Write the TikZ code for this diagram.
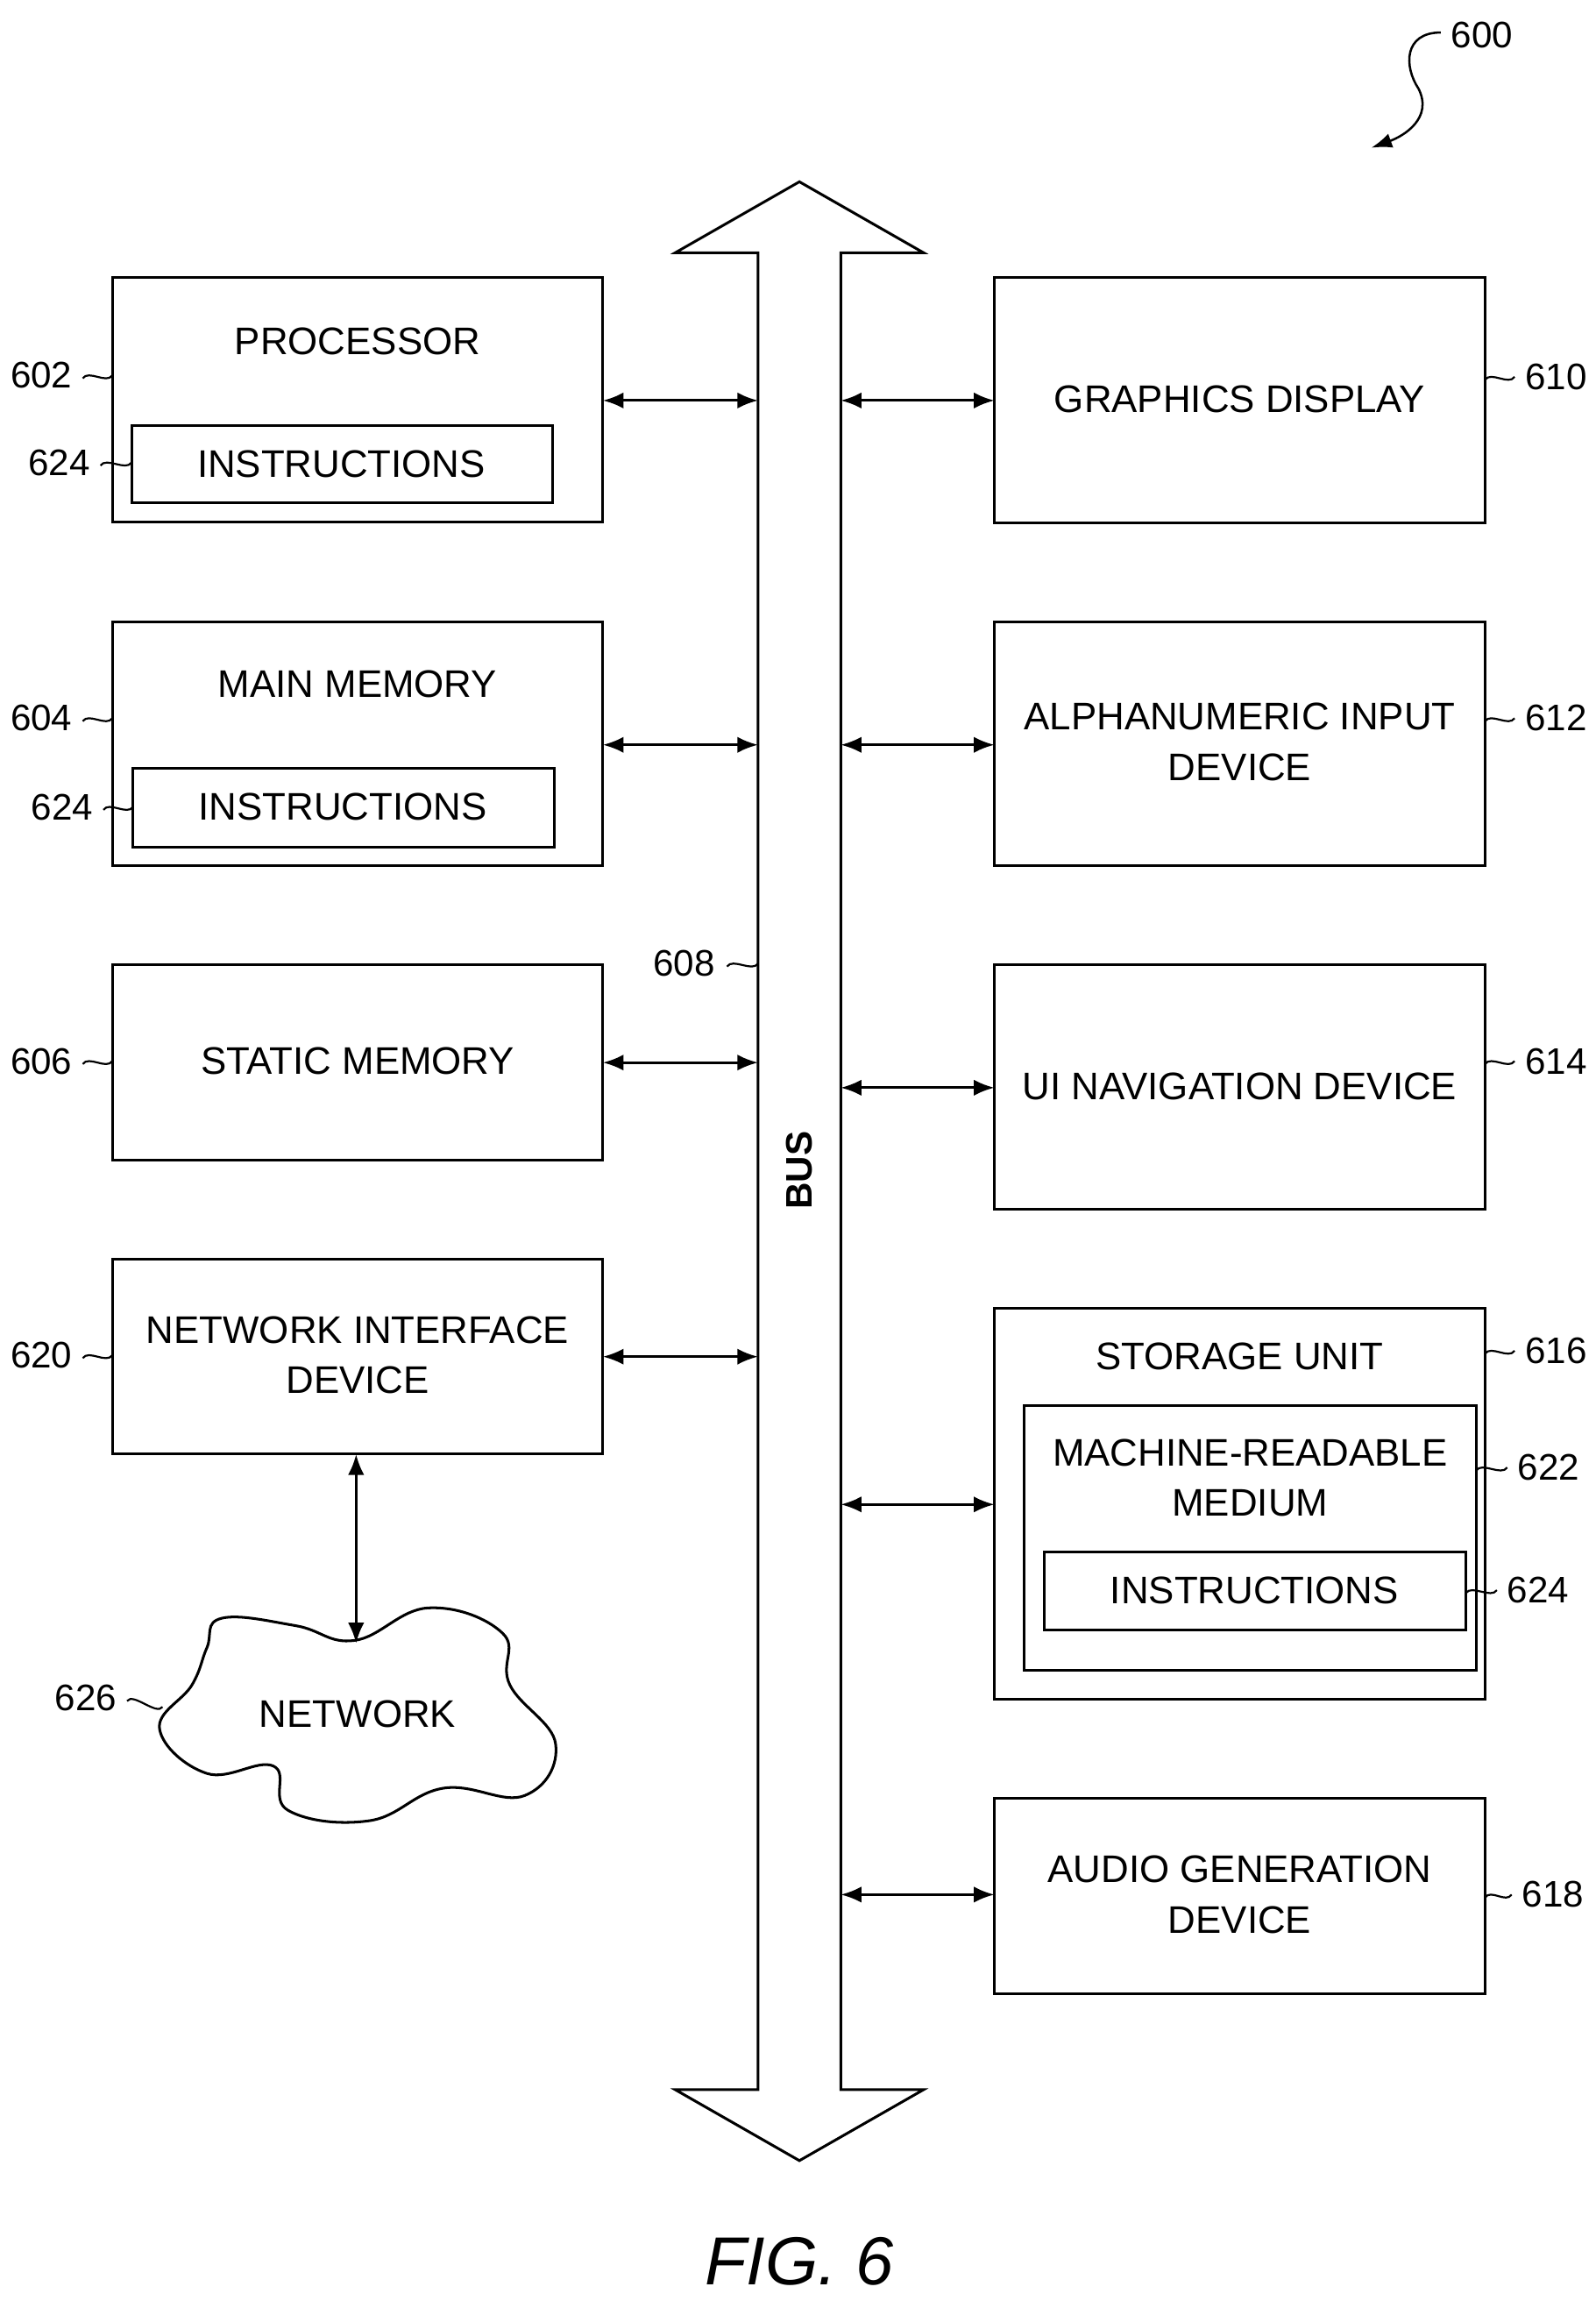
\documentclass[tikz,border=0pt]{standalone}
\usepackage{fontspec}
\setmainfont{Liberation Sans}
\usetikzlibrary{arrows.meta}
\begin{document}
\begin{tikzpicture}[x=1pt,y=-1pt,line width=1.8pt,
 box/.style={draw,line width=1.8pt},
 txt/.style={font=\fontsize{26}{34}\selectfont,align=center},
 lab/.style={font=\fontsize{25}{30}\selectfont},
 arr/.style={{Latex[length=14pt,width=11pt]}-{Latex[length=14pt,width=11pt]},line width=1.8pt}]
\useasboundingbox (0,0) rectangle (1080,1557);
% left boxes
\draw[box] (76,188) rectangle (408,353); \node[txt] (p) at (242,231) {PROCESSOR};
\draw[box] (89,288) rectangle (374,340); \node[txt] (pi) at (231,314) {INSTRUCTIONS};
\draw[box] (76,421) rectangle (408,586); \node[txt] (m) at (242,463) {MAIN MEMORY};
\draw[box] (90,520) rectangle (375,573); \node[txt] (mi) at (232,546) {INSTRUCTIONS};
\draw[box] (76,653) rectangle (408,785); \node[txt] (s) at (242,718) {STATIC MEMORY};
\draw[box] (76,852) rectangle (408,984); \node[txt] (n) at (242,917) {NETWORK INTERFACE\\DEVICE};
% right boxes
\draw[box] (673,188) rectangle (1005,354); \node[txt] (g) at (839,270) {GRAPHICS DISPLAY};
\draw[box] (673,421) rectangle (1005,586); \node[txt] (a) at (839,502) {ALPHANUMERIC INPUT\\DEVICE};
\draw[box] (673,653) rectangle (1005,818); \node[txt] (u) at (839,735) {UI NAVIGATION DEVICE};
\draw[box] (673,885) rectangle (1005,1150); \node[txt] (st) at (839,918) {STORAGE UNIT};
\draw[box] (693,951) rectangle (999,1130); \node[txt] (mr) at (846,1000) {MACHINE-READABLE\\MEDIUM};
\draw[box] (707,1050) rectangle (992,1103); \node[txt] (si) at (849,1076) {INSTRUCTIONS};
\draw[box] (673,1217) rectangle (1005,1349); \node[txt] (au) at (839,1282) {AUDIO GENERATION\\DEVICE};
% bus
\draw[line width=1.8pt,fill=white] (513,171) -- (457,171) -- (541,123) -- (625,171) -- (569,171)
 -- (569,1414) -- (625,1414) -- (541,1462) -- (457,1414) -- (513,1414) -- cycle;
\node[font=\bfseries\fontsize{25}{30}\selectfont,rotate=90] (bus) at (541,792) {BUS};
% arrows
\foreach \y in {271,504,719,918} \draw[arr] (408,\y) -- (513,\y);
\foreach \y in {271,504,736,1018,1282} \draw[arr] (569,\y) -- (673,\y);
% cloud
\draw[line width=1.8pt] plot[smooth cycle,tension=0.7] coordinates{
 (150,1095) (200,1100) (240,1110) (290,1088) (340,1105) (345,1140) (376,1180) (355,1215)
 (300,1210) (250,1232) (195,1225) (185,1195) (140,1200) (108,1170) (130,1140) (140,1115)};
\node[txt] (net) at (242,1160) {NETWORK};
\draw[arr] (241,984) -- (241,1112);
% labels with leaders
\newcommand{\ldr}[2]{\draw[line width=1.3pt] #1 .. controls +(4,-6) and +(-4,6) .. #2;}
\node[lab] at (28,254) {602}; \ldr{(56,256)}{(76,254)}
\node[lab] at (40,313) {624}; \ldr{(68,315)}{(89,313)}
\node[lab] at (28,486) {604}; \ldr{(56,488)}{(76,486)}
\node[lab] at (42,546) {624}; \ldr{(70,548)}{(90,546)}
\node[lab] at (28,718) {606}; \ldr{(56,720)}{(76,718)}
\node[lab] at (28,917) {620}; \ldr{(56,919)}{(76,917)}
\node[lab] at (58,1149) {626}; \ldr{(86,1151)}{(110,1155)}
\node[lab] at (463,652) {608}; \ldr{(492,654)}{(513,652)}
\node[lab] at (1053,255) {610}; \ldr{(1005,257)}{(1025,255)}
\node[lab] at (1053,486) {612}; \ldr{(1005,488)}{(1025,486)}
\node[lab] at (1053,718) {614}; \ldr{(1005,720)}{(1025,718)}
\node[lab] at (1053,914) {616}; \ldr{(1005,916)}{(1025,914)}
\node[lab] at (1048,993) {622}; \ldr{(999,995)}{(1020,993)}
\node[lab] at (1041,1076) {624}; \ldr{(992,1078)}{(1013,1076)}
\node[lab] at (1051,1282) {618}; \ldr{(1005,1284)}{(1023,1282)}
\node[lab] at (1003,24) {600};
\draw[line width=1.5pt,-{Latex[length=14pt,width=10pt]}] (975,22) .. controls (950,22) and (950,45) .. (960,60) .. controls (970,80) and (950,92) .. (928,100);
\node[font=\itshape\fontsize{46}{52}\selectfont] (fig) at (541,1530) {FIG. 6};
\end{tikzpicture}
\end{document}
